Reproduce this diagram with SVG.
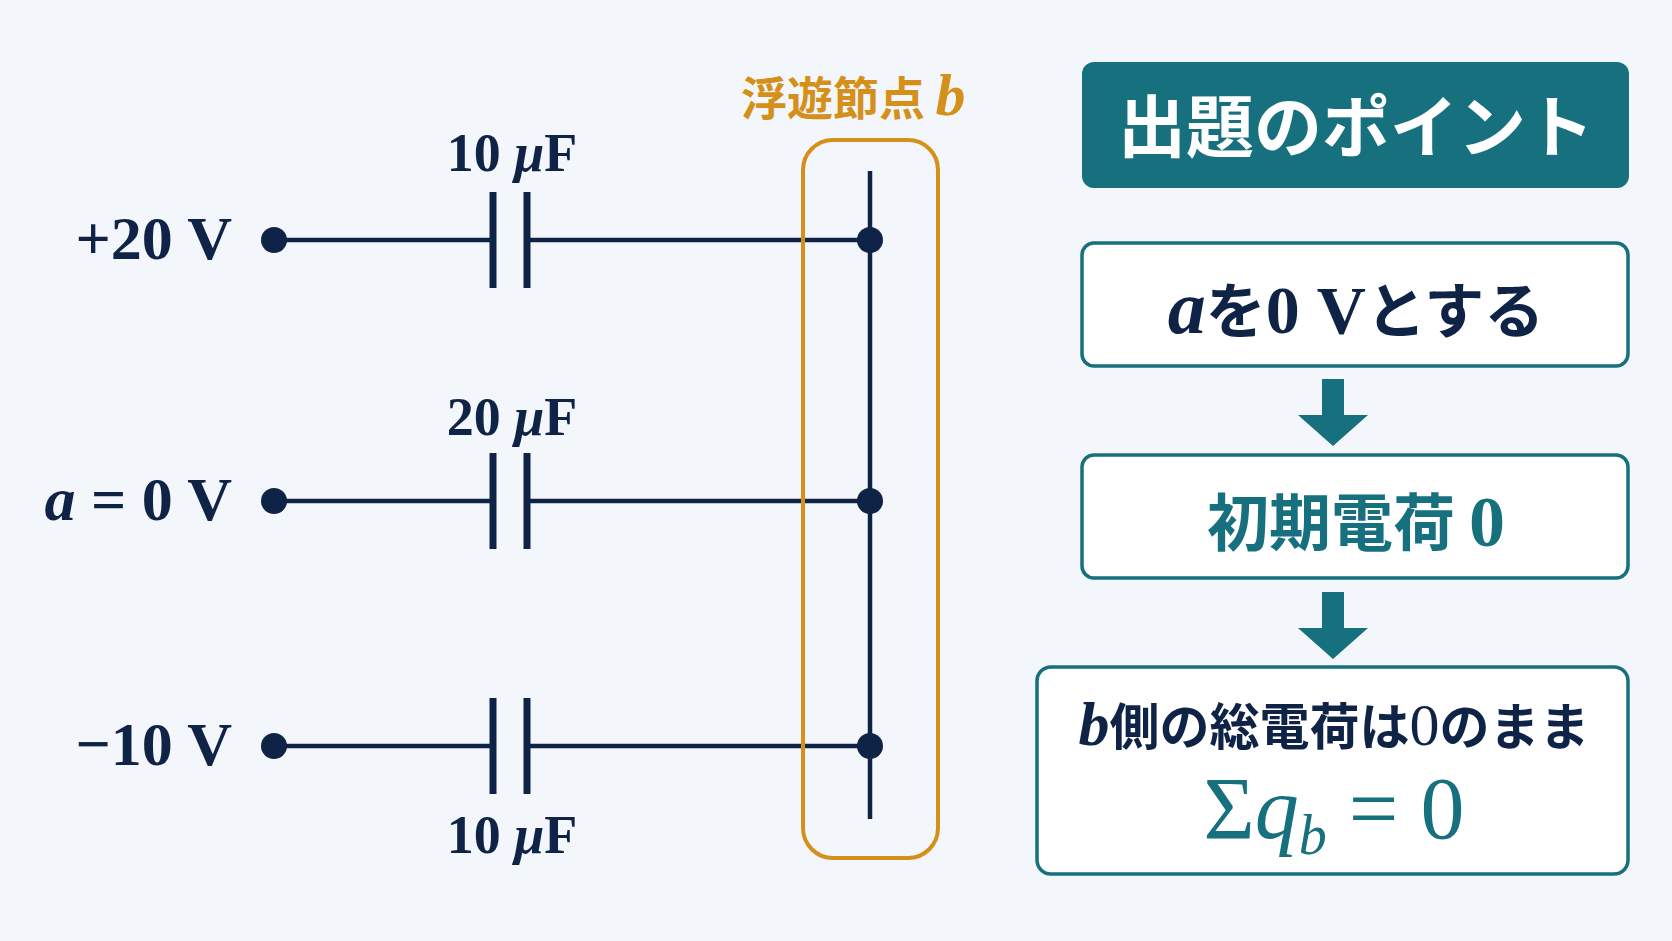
<svg xmlns="http://www.w3.org/2000/svg" width="1672" height="941" viewBox="0 0 1672 941">
<style>
.w{stroke:#0f2347;stroke-width:4.5;fill:none}
.p{stroke:#0f2347;stroke-width:7}
.d{fill:#0f2347}
.s{font-family:"Liberation Serif",serif;fill:#0f2347;font-weight:bold}
.box{fill:#fff;stroke:#17707e;stroke-width:3.5}
.j{font-family:"Noto Sans CJK JP",sans-serif;font-weight:bold}
.ar{fill:#17707e}
</style>
<rect width="1672" height="941" fill="#f3f7fb"/>
<g id="connectors">
<line class="w" x1="274" y1="240" x2="493" y2="240"/><line class="w" x1="527" y1="240" x2="870" y2="240"/>
<line class="w" x1="274" y1="501" x2="493" y2="501"/><line class="w" x1="527" y1="501" x2="870" y2="501"/>
<line class="w" x1="274" y1="746" x2="493" y2="746"/><line class="w" x1="527" y1="746" x2="870" y2="746"/>
<line class="w" x1="870" y1="171" x2="870" y2="819"/>
<path class="ar" d="M1322 379h22v36h24l-35 31l-35-31h24z"/>
<path class="ar" d="M1322 592h22v36h24l-35 31l-35-31h24z"/>
</g>
<g id="caps">
<line class="p" x1="493" y1="192" x2="493" y2="288"/><line class="p" x1="527" y1="192" x2="527" y2="288"/>
<line class="p" x1="493" y1="453" x2="493" y2="549"/><line class="p" x1="527" y1="453" x2="527" y2="549"/>
<line class="p" x1="493" y1="698" x2="493" y2="794"/><line class="p" x1="527" y1="698" x2="527" y2="794"/>
<g class="s" font-size="54" text-anchor="middle" font-weight="normal">
<text x="512" y="171">10 <tspan font-style="italic">μ</tspan>F</text>
<text x="512" y="435">20 <tspan font-style="italic">μ</tspan>F</text>
<text x="512" y="853">10 <tspan font-style="italic">μ</tspan>F</text>
</g>
</g>
<g id="terminals">
<circle class="d" cx="274" cy="240" r="13"/><circle class="d" cx="274" cy="501" r="13"/><circle class="d" cx="274" cy="746" r="13"/>
<g class="s" font-size="62" text-anchor="end" font-weight="normal">
<text x="232" y="259">+20 V</text>
<text x="232" y="520"><tspan font-style="italic">a</tspan> = 0 V</text>
<text x="232" y="765">−10 V</text>
</g>
</g>
<g id="nodeb">
<circle class="d" cx="870" cy="240" r="13"/><circle class="d" cx="870" cy="501" r="13"/><circle class="d" cx="870" cy="746" r="13"/>
<rect x="803" y="140" width="135" height="718" rx="30" fill="none" stroke="#d4901a" stroke-width="4"/>
<text x="741" y="115" font-size="46" fill="#d4901a" class="j">浮遊節点 <tspan font-family="Liberation Serif,serif" font-style="italic" font-size="60">b</tspan></text>
</g>
<g id="title">
<rect x="1082" y="62" width="547" height="126" rx="12" fill="#17707e"/>
<text x="1356" y="152" font-size="68" fill="#fff" text-anchor="middle" class="j">出題のポイント</text>
</g>
<g id="step1">
<rect class="box" x="1082" y="243" width="546" height="123" rx="12"/>
<text x="1356" y="333" font-size="60" fill="#0f2347" text-anchor="middle" class="j"><tspan font-family="Liberation Serif,serif" font-style="italic" font-size="76">a</tspan>を<tspan font-family="Liberation Serif,serif" font-size="68">0 V</tspan>とする</text>
</g>
<g id="step2">
<rect class="box" x="1082" y="455" width="546" height="123" rx="12"/>
<text x="1356" y="546" font-size="62" fill="#17707e" text-anchor="middle" class="j">初期電荷 <tspan font-family="Liberation Serif,serif" font-size="72">0</tspan></text>
</g>
<g id="step3">
<rect class="box" x="1037" y="667" width="591" height="207" rx="14"/>
<text x="1334" y="745" font-size="50" fill="#0f2347" text-anchor="middle" class="j"><tspan font-family="Liberation Serif,serif" font-style="italic" font-size="62">b</tspan>側の総電荷は<tspan font-family="Liberation Serif,serif" font-weight="normal" font-size="60">0</tspan>のまま</text>
<text x="1334" y="838" font-size="88" fill="#17707e" text-anchor="middle" font-family="Liberation Serif,serif">Σ<tspan font-style="italic">q</tspan><tspan font-style="italic" font-size="56" dy="16">b</tspan><tspan dy="-16"> = 0</tspan></text>
</g>
</svg>
